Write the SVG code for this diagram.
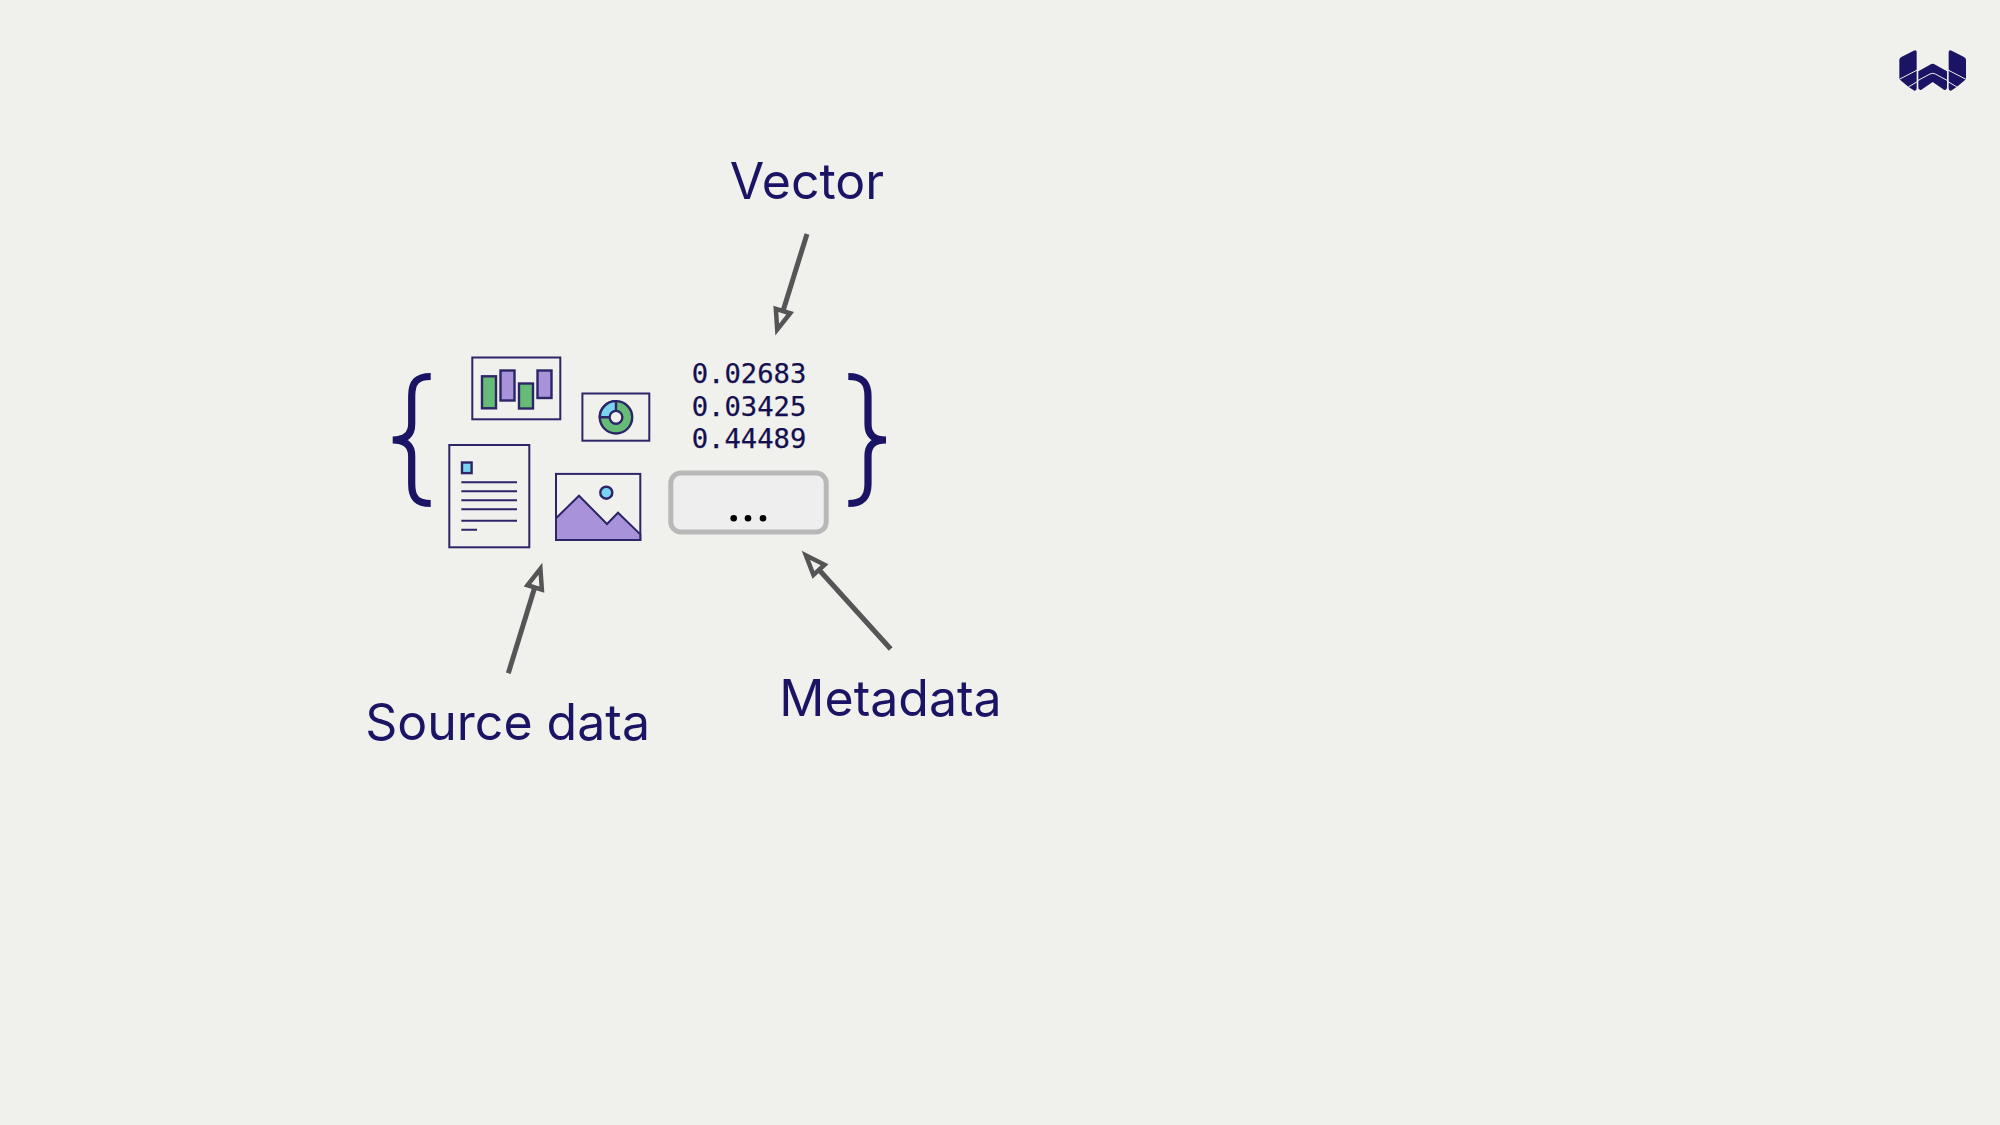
<svg xmlns="http://www.w3.org/2000/svg" width="2000" height="1125" viewBox="0 0 2000 1125">
<style>
.bg{fill:#f0f1ed}
.label{font-family:Inter,"Liberation Sans",sans-serif;font-size:50px;fill:#1b1464;text-anchor:middle}
.num{font-family:"DejaVu Sans Mono",monospace;font-size:27.2px;fill:#14104f;stroke:#14104f;stroke-width:.25;text-anchor:middle}
.ol{stroke:#2c2568;stroke-width:2;fill:#f0f1ed}
.green{fill:#66bb76;stroke:#2c2568;stroke-width:2.4}
.purple{fill:#a892d9;stroke:#2c2568;stroke-width:2.4}
.blue{fill:#7ad4ee;stroke:#2c2568;stroke-width:2.4}
.ln{stroke:#2c2568;stroke-width:1.9;fill:none}
.brace{fill:none;stroke:#1b1464;stroke-width:7.2}
.arrow{stroke:#555555;stroke-width:5;fill:none;marker-end:url(#tri)}
</style>
<defs>
<marker id="tri" markerUnits="userSpaceOnUse" viewBox="-4 -12 36 24" refX="0" refY="0" markerWidth="36" markerHeight="24" orient="auto">
<path d="M0,-7.5 L19.5,0 L0,7.5 Z" fill="#f0f1ed" stroke="#555555" stroke-width="4.5" stroke-miterlimit="8"/>
</marker>
</defs>
<rect class="bg" width="2000" height="1125"/>
<rect x="389" y="338" width="510" height="223" fill="#f0f0ec"/>

<g id="brace-left"><path class="brace" d="M430.7,376.5 C417,376.5 411.7,382 411.7,396 L411.7,424 C411.7,434 406,440 392.7,440 C406,440 411.7,446 411.7,456 L411.7,484 C411.7,498 417,503.5 430.7,503.5"/></g>
<g id="brace-right"><path class="brace" d="M848.3,376.5 C862,376.5 868,382 868,396 L868,424 C868,434 873,440 886,440 C873,440 868,446 868,456 L868,484 C868,498 862,503.5 848.3,503.5"/></g>

<g id="chart">
<rect class="ol" x="472.3" y="357.5" width="88" height="61.8"/>
<rect class="green" x="482" y="376.3" width="14" height="32"/>
<rect class="purple" x="500.5" y="370.5" width="14" height="30"/>
<rect class="green" x="519" y="383.5" width="14" height="25"/>
<rect class="purple" x="537.5" y="370.5" width="14" height="27.5"/>
</g>
<g id="donut">
<rect class="ol" x="582.4" y="393.5" width="66.9" height="47.2"/>
<circle class="green" cx="616" cy="417.3" r="16.2"/>
<path class="blue" d="M616,401.1 A16.2,16.2 0 0 0 599.8,417.3 L616,417.3 Z"/>
<circle cx="616" cy="417.3" r="6.4" fill="#f0f1ed" stroke="#2c2568" stroke-width="2.4"/>
</g>
<g id="document">
<rect class="ol" x="449.3" y="445" width="80" height="102.3"/>
<rect class="blue" x="462" y="462.5" width="9.6" height="10.6"/>
<path class="ln" d="M461.3,482.3H517M461.3,491.3H517M461.3,500.3H517M461.3,509.3H517M461.3,520.7H517M461.3,529.7H477"/>
</g>
<g id="image">
<rect class="ol" x="556" y="473.9" width="84.3" height="66.1"/>
<path d="M556,518.3 L579,495.7 L607,524 L618,512.7 L640.3,534.3 L640.3,540 L556,540 Z" fill="#a892d9" stroke="#2c2568" stroke-width="2"/>
<circle class="blue" cx="606.3" cy="492.7" r="6"/>
</g>
<g id="vector-values">
<text class="num" x="749" y="382.8">0.02683</text>
<text class="num" x="749" y="415.5">0.03425</text>
<text class="num" x="749" y="448.2">0.44489</text>
</g>
<g id="metadata-box">
<rect x="670.8" y="473" width="155.4" height="59" rx="10" fill="#eeeeee" stroke="#b8b8b8" stroke-width="5"/>
<circle cx="733.7" cy="518.3" r="3.3" fill="#000"/>
<circle cx="748" cy="518.3" r="3.3" fill="#000"/>
<circle cx="763" cy="518.3" r="3.3" fill="#000"/>
</g>
<g id="connectors">
<path class="arrow" d="M807,234 L783,311"/>
<path class="arrow" d="M508.3,673.3 L534.7,587.4"/>
<path class="arrow" d="M890.7,649 L819,569.8"/>
</g>
<g id="label-vector"><text class="label" x="807" y="199">Vector</text></g>
<g id="label-source"><text class="label" x="507.6" y="740">Source data</text></g>
<g id="label-metadata"><text class="label" x="890.5" y="716">Metadata</text></g>
<g id="logo" transform="translate(1895,46) scale(.3333)">
<path fill="#1b1464" d="M13,42 Q13,36 19,33 L56,14 Q65,10 65,19 L65,127 Q65,135 58,134 L40,122 L13,100 Z"/>
<path fill="#1b1464" d="M213,42 Q213,36 207,33 L170,14 Q161,10 161,19 L161,127 Q161,135 168,134 L186,122 L213,100 Z"/>
<path fill="#1b1464" d="M70,76 L105,56 Q113,51 121,56 L156,76 L156,124 Q156,134 148,132 L113,108 L78,132 Q70,134 70,124 Z"/>
<path fill="none" stroke="#f0f1ed" stroke-width="3" d="M11,101 L67,72 M40,123 L67,107 M159,107 L186,123 M159,72 L215,101 M68,104 L105,84 Q113,80 121,84 L158,104"/>
</g>
</svg>
